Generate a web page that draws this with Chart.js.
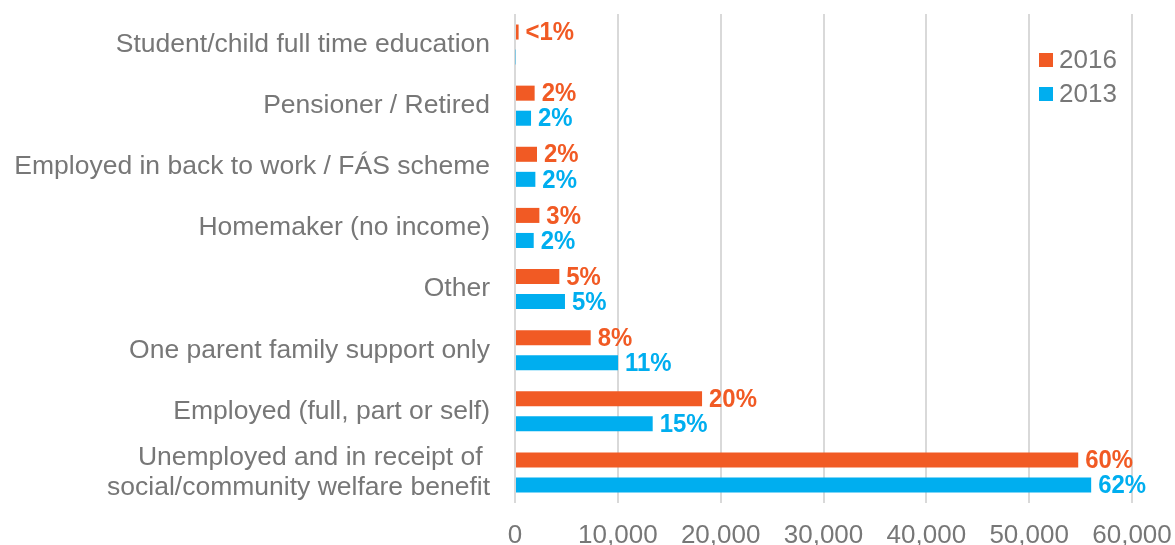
<!DOCTYPE html>
<html>
<head>
<meta charset="utf-8">
<script src="https://cdn.jsdelivr.net/npm/chart.js@4.4.0/dist/chart.umd.min.js"></script>
<style>
  body { margin: 0; background: #fff; }
</style>
</head>
<body>
<canvas id="chart" width="1175" height="545"></canvas>
<script>
var categories = [
    "Student/child full time education",
    "Pensioner / Retired",
    "Employed in back to work / FÁS scheme",
    "Homemaker (no income)",
    "Other",
    "One parent family support only",
    "Employed (full, part or self)",
    ["Unemployed and in receipt of ", "social/community welfare benefit"]
];

var values2016 = [350, 1910, 2140, 2370, 4310, 7360, 18190, 54770];
var values2013 = [60, 1560, 1980, 1820, 4860, 10020, 13390, 56030];

var pct2016 = ["<1%", "2%", "2%", "3%", "5%", "8%", "20%", "60%"];
var pct2013 = ["", "2%", "2%", "2%", "5%", "11%", "15%", "62%"];

var xTicks = [0, 10000, 20000, 30000, 40000, 50000, 60000];

var orange = "#F15A24";
var blue = "#00AEEF";
var grey = "#777777";

// percentage labels at the end of each bar (squeezed to look condensed)
var pctLabels = {
    id: "pctLabels",
    afterDatasetsDraw: function (chart) {
        var ctx = chart.ctx;
        var sets = [pct2016, pct2013];
        var sx = 0.92;
        ctx.save();
        ctx.font = "bold 26px 'Liberation Sans', Arial, sans-serif";
        ctx.textAlign = "left";
        ctx.textBaseline = "middle";
        chart.data.datasets.forEach(function (ds, d) {
            var meta = chart.getDatasetMeta(d);
            ctx.fillStyle = ds.backgroundColor;
            meta.data.forEach(function (bar, i) {
                if (sets[d][i]) {
                    ctx.save();
                    ctx.translate(bar.x + 7, bar.y + 1);
                    ctx.scale(sx, 1);
                    ctx.fillText(sets[d][i], 0, 0);
                    ctx.restore();
                }
            });
        });
        ctx.restore();
    }
};

// legend in the top right corner of the plot
var cornerLegend = {
    id: "cornerLegend",
    afterDraw: function (chart) {
        var ctx = chart.ctx;
        ctx.save();
        ctx.font = "26px 'Liberation Sans', Arial, sans-serif";
        ctx.textBaseline = "middle";
        chart.data.datasets.forEach(function (ds, d) {
            var y = 60 + d * 34;
            ctx.fillStyle = ds.backgroundColor;
            ctx.fillRect(1039, y - 7, 14, 14);
            ctx.fillStyle = grey;
            ctx.fillText(ds.label, 1059, y + 1);
        });
        ctx.restore();
    }
};

new Chart(document.getElementById("chart").getContext("2d"), {
    type: "bar",
    data: {
        labels: categories,
        datasets: [
            {
                label: "2016",
                data: values2016,
                backgroundColor: orange,
                categoryPercentage: 0.82,
                barPercentage: 0.6
            },
            {
                label: "2013",
                data: values2013,
                backgroundColor: blue,
                categoryPercentage: 0.82,
                barPercentage: 0.6
            }
        ]
    },
    options: {
        indexAxis: "y",
        responsive: false,
        animation: false,
        layout: {
            padding: { top: 14, right: 43, bottom: 0, left: 0 }
        },
        plugins: {
            legend: { display: false },
            tooltip: { enabled: false }
        },
        scales: {
            x: {
                min: 0,
                max: 60000,
                afterBuildTicks: function (scale) {
                    scale.ticks = xTicks.map(function (v) { return { value: v }; });
                },
                afterFit: function (scale) {
                    scale.height = 42;
                    scale.paddingLeft = 0;
                    scale.paddingRight = 0;
                },
                grid: {
                    color: "#d9d9d9",
                    lineWidth: 2,
                    drawTicks: false
                },
                border: { display: false },
                ticks: {
                    color: grey,
                    padding: 17,
                    font: { family: "'Liberation Sans', Arial, sans-serif", size: 26 },
                    callback: function (v) { return v.toLocaleString("en-US"); }
                }
            },
            y: {
                afterFit: function (scale) {
                    scale.width = 515;
                    scale.paddingTop = 0;
                    scale.paddingBottom = 0;
                },
                grid: { display: false },
                border: { display: false },
                ticks: {
                    color: grey,
                    autoSkip: false,
                    padding: 17,
                    font: { family: "'Liberation Sans', Arial, sans-serif", size: 26.5, lineHeight: 1.12 }
                }
            }
        }
    },
    plugins: [pctLabels, cornerLegend]
});
</script>
</body>
</html>
